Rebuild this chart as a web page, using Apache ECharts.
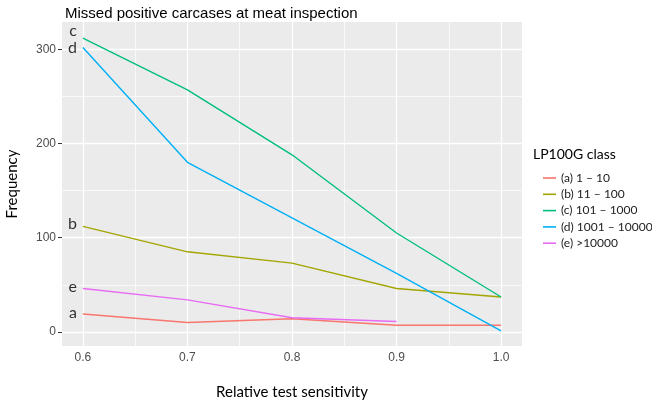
<!DOCTYPE html>
<html>
<head>
<meta charset="utf-8">
<script src="https://cdn.jsdelivr.net/npm/echarts@6/dist/echarts.min.js"></script>
<style>html,body{margin:0;padding:0;background:#fff}#c{width:652px;height:404px}</style>
</head>
<body>
<div id="c"></div>
<script>
// ---- data ----
const sensitivity = [0.6, 0.7, 0.8, 0.9, 1.0];
const seriesNames = ['(a) 1 – 10', '(b) 11 – 100', '(c) 101 – 1000', '(d) 1001 – 10000', '(e) >10000'];
const tagLetters = ['a', 'b', 'c', 'd', 'e'];
const valuesA = [19, 10, 14, 7, 7];
const valuesB = [112, 85, 73, 46, 37];
const valuesC = [312, 257, 188, 105, 37];
const valuesD = [302, 180, 121, 62, 1];
const valuesE = [46, 34, 15, 11, null];
const xTicks = [0.6, 0.7, 0.8, 0.9, 1.0];
const xMinor = [0.65, 0.75, 0.85, 0.95];
const yTicks = [0, 100, 200, 300];
const yMinor = [50, 150, 250];

const colors = ['#F8766D', '#A3A500', '#00BF7D', '#00B0F6', '#E76BF3'];
const allValues = [valuesA, valuesB, valuesC, valuesD, valuesE];
const labelOffsets = [[0, -1], [0, -3], [0, -7], [0, 0], [0, -2]];

const chart = echarts.init(document.getElementById('c'), null, {renderer: 'canvas'});

const gridSeries = {
  name: '__grid', type: 'line', data: [], silent: true, z: 1,
  markLine: {
    silent: true, symbol: 'none', animation: false, z: 1,
    label: {show: false},
    emphasis: {disabled: true},
    data: [
      ...xMinor.map(v => ({xAxis: v, lineStyle: {color: '#fff', width: 0.7, type: 'solid'}})),
      ...yMinor.map(v => ({yAxis: v, lineStyle: {color: '#fff', width: 0.7, type: 'solid'}})),
      ...xTicks.map(v => ({xAxis: v, lineStyle: {color: '#fff', width: 1.3, type: 'solid'}})),
      ...yTicks.map(v => ({yAxis: v, lineStyle: {color: '#fff', width: 1.3, type: 'solid'}}))
    ]
  }
};

const dataSeries = allValues.map((vals, i) => ({
  name: seriesNames[i],
  type: 'line',
  z: 3,
  showSymbol: false,
  symbol: 'none',
  lineStyle: {color: colors[i], width: 1.4},
  itemStyle: {color: colors[i]},
  emphasis: {disabled: true},
  connectNulls: false,
  data: vals.map((v, j) => [sensitivity[j], v])
}));

const tagSeries = {
  name: '__tags', type: 'scatter', z: 4, silent: true,
  symbolSize: 0,
  data: allValues.map((vals, i) => ({
    value: [sensitivity[0], vals[0]],
    label: {show: true, formatter: tagLetters[i], position: 'left', distance: 6,
            offset: labelOffsets[i], fontFamily: 'Lato', fontSize: 16, color: '#000'}
  }))
};

chart.setOption({
  animation: false,
  backgroundColor: '#fff',
  title: [
    {text: 'Missed positive carcases at meat inspection', left: 60, top: 1,
     textStyle: {fontFamily: 'Liberation Sans', fontSize: 15, fontWeight: 'normal', color: '#000'}},
    {text: 'LP100G class', left: 528, top: 142,
     textStyle: {fontFamily: 'Lato', fontSize: 14, fontWeight: 'normal', color: '#000'}}
  ],
  legend: {
    orient: 'vertical', left: 538, top: 167,
    data: seriesNames,
    icon: 'rect', itemWidth: 13, itemHeight: 1.6, itemGap: 4.3,
    textStyle: {fontFamily: 'Lato', fontSize: 12, color: '#222', padding: [0, 0, 0, 0]},
    selectedMode: false
  },
  grid: {left: 62, right: 130, top: 22, bottom: 58, show: true, backgroundColor: '#EBEBEB',
         borderWidth: 0, containLabel: false, outerBoundsMode: 'none'},
  xAxis: {
    type: 'value', min: 0.58, max: 1.02,
    name: 'Relative test sensitivity', nameLocation: 'middle', nameGap: 39,
    nameTextStyle: {fontFamily: 'Lato', fontSize: 15, color: '#000'},
    axisLine: {show: false},
    axisTick: {show: true, length: 4, lineStyle: {color: '#333'}, customValues: xTicks},
    axisLabel: {fontFamily: 'Liberation Sans', fontSize: 12, color: '#4D4D4D', margin: 6,
                customValues: xTicks, formatter: v => v.toFixed(1)},
    splitLine: {show: false}, minorSplitLine: {show: false}
  },
  yAxis: {
    type: 'value', min: -15, max: 329,
    name: 'Frequency', nameLocation: 'middle', nameGap: 42, nameRotate: 90,
    nameTextStyle: {fontFamily: 'Lato', fontSize: 15, color: '#000'},
    axisLine: {show: false},
    axisTick: {show: true, length: 4, lineStyle: {color: '#333'}, customValues: yTicks},
    axisLabel: {fontFamily: 'Liberation Sans', fontSize: 12, color: '#4D4D4D', margin: 6,
                customValues: yTicks},
    splitLine: {show: false}, minorSplitLine: {show: false}
  },
  series: [gridSeries, ...dataSeries, tagSeries]
});
</script>
</body>
</html>
